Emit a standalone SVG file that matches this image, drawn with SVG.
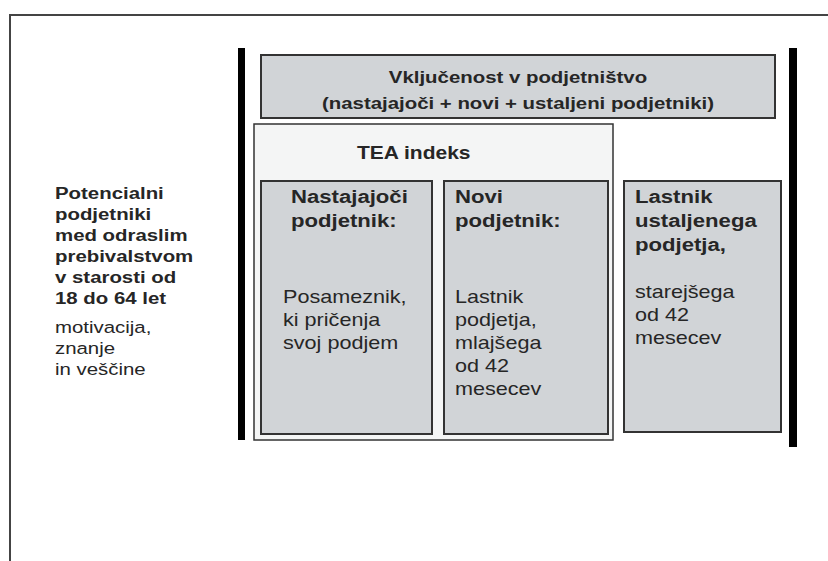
<svg xmlns="http://www.w3.org/2000/svg" width="828" height="561" viewBox="0 0 828 561">
<style>
.t{font-family:"Liberation Sans",Arial,sans-serif;fill:#262626}
.b{font-weight:bold}
.box{fill:#d1d4d7;stroke:#333;stroke-width:2}
.bar{fill:#000}
</style>
<rect width="828" height="561" fill="#fff"/>
<path d="M10 570 V15 H830" fill="none" stroke="#444" stroke-width="2"/>
<g id="connectors">
<rect class="bar" x="238" y="48" width="7" height="392"/>
<rect class="bar" x="789" y="48" width="8" height="399"/>
</g>
<g id="potencialni">
<text class="t b" font-size="17" transform="translate(55,199) scale(1.2,1)"><tspan x="0">Potencialni</tspan><tspan x="0" dy="21">podjetniki</tspan><tspan x="0" dy="21">med odraslim</tspan><tspan x="0" dy="21">prebivalstvom</tspan><tspan x="0" dy="21">v starosti od</tspan><tspan x="0" dy="21">18 do 64 let</tspan></text>
<text class="t" font-size="17" transform="translate(55,333) scale(1.2,1)"><tspan x="0">motivacija,</tspan><tspan x="0" dy="21">znanje</tspan><tspan x="0" dy="21">in veščine</tspan></text>
</g>
<g id="vkljucenost">
<rect class="box" x="261" y="55" width="514" height="63"/>
<text class="t b" font-size="17" text-anchor="middle" transform="translate(518,83) scale(1.2,1)"><tspan x="0">Vključenost v podjetništvo</tspan><tspan x="0" dy="26">(nastajajoči + novi + ustaljeni podjetniki)</tspan></text>
</g>
<g id="tea">
<rect x="254" y="124" width="359" height="316" fill="#f4f5f5" stroke="#333" stroke-width="1.5"/>
<text class="t b" font-size="17.5" transform="translate(357,159) scale(1.2,1)">TEA indeks</text>
</g>
<g id="nastajajoci">
<rect class="box" x="261" y="181" width="171" height="253"/>
<text class="t b" font-size="18" transform="translate(291,203) scale(1.23,1)"><tspan x="0">Nastajajoči</tspan><tspan x="0" dy="24">podjetnik:</tspan></text>
<text class="t" font-size="18" transform="translate(283,303) scale(1.2,1)"><tspan x="0">Posameznik,</tspan><tspan x="0" dy="23">ki pričenja</tspan><tspan x="0" dy="23">svoj podjem</tspan></text>
</g>
<g id="novi">
<rect class="box" x="444" y="181" width="164" height="253"/>
<text class="t b" font-size="18" transform="translate(455,203) scale(1.23,1)"><tspan x="0">Novi</tspan><tspan x="0" dy="24">podjetnik:</tspan></text>
<text class="t" font-size="18" transform="translate(455,303) scale(1.2,1)"><tspan x="0">Lastnik</tspan><tspan x="0" dy="23">podjetja,</tspan><tspan x="0" dy="23">mlajšega</tspan><tspan x="0" dy="23">od 42</tspan><tspan x="0" dy="23">mesecev</tspan></text>
</g>
<g id="lastnik">
<rect class="box" x="624" y="181" width="157" height="251"/>
<text class="t b" font-size="18" transform="translate(635,203) scale(1.23,1)"><tspan x="0">Lastnik</tspan><tspan x="0" dy="24">ustaljenega</tspan><tspan x="0" dy="24">podjetja,</tspan></text>
<text class="t" font-size="18" transform="translate(635,298) scale(1.2,1)"><tspan x="0">starejšega</tspan><tspan x="0" dy="23">od 42</tspan><tspan x="0" dy="23">mesecev</tspan></text>
</g>
</svg>
